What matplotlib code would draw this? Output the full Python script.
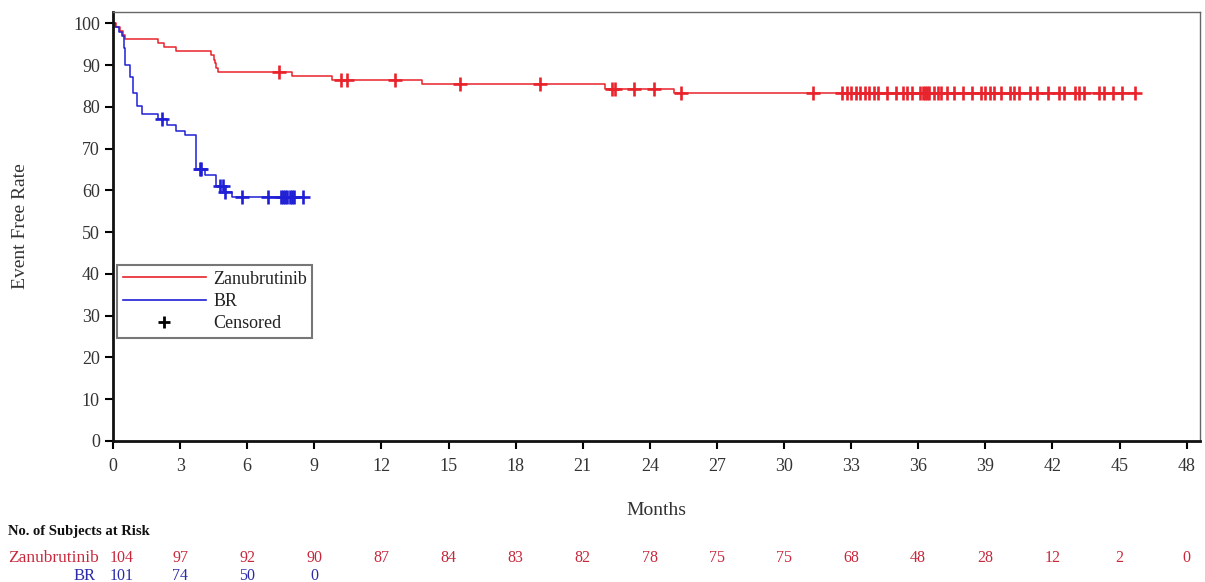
import numpy as np
import matplotlib
matplotlib.use("Agg")
import matplotlib.pyplot as plt
from matplotlib.lines import Line2D
from matplotlib.transforms import blended_transform_factory

plt.rcParams['font.family'] = ['Liberation Serif', 'DejaVu Serif']

# Kaplan-Meier steps (months, event free rate %)
zan_t = [0, 0.15, 0.3, 0.45, 0.55, 2.0, 2.3, 2.8, 4.4, 4.5, 4.55, 4.6, 4.7, 8.0, 9.8, 13.8, 22.0, 25.1]
zan_s = [100, 99.0, 98.1, 97.1, 96.2, 95.2, 94.2, 93.3, 92.3, 91.3, 90.4, 89.4, 88.4, 87.4, 86.4, 85.4, 84.3, 83.2]
zan_cens = [7.4, 10.2, 10.45, 12.6, 15.5, 19.1, 22.3, 22.45, 23.3, 24.2, 25.4, 31.3,
            32.6, 32.8, 33.0, 33.2, 33.4, 33.6, 33.8, 34.0, 34.2, 34.6, 35.0, 35.3, 35.5,
            35.7, 36.1, 36.2, 36.3, 36.4, 36.5, 36.7, 36.9, 37.0, 37.3, 37.6, 38.0, 38.4,
            38.8, 39.0, 39.2, 39.4, 39.7, 40.1, 40.3, 40.5, 41.0, 41.3, 41.8, 42.3, 42.5,
            43.0, 43.2, 43.4, 44.1, 44.3, 44.7, 45.1, 45.7]

br_t = [0, 0.1, 0.25, 0.4, 0.5, 0.55, 0.75, 0.9, 1.05, 1.28, 2.0, 2.4, 2.8, 3.2, 3.72, 4.1, 4.6, 4.95, 5.3]
br_s = [100, 99.0, 98.0, 97.0, 94.1, 90.1, 87.1, 83.2, 80.2, 78.2, 77.2, 75.6, 74.2, 73.3, 65.1, 63.6, 61.0, 59.6, 58.4]
br_cens = [2.2, 3.9, 3.95, 4.8, 4.9, 5.0, 5.75, 6.95, 7.5, 7.6, 7.7, 7.8, 7.9, 8.0, 8.1, 8.5]

# numbers at risk
risk_months = [0, 3, 6, 9, 12, 15, 18, 21, 24, 27, 30, 33, 36, 39, 42, 45, 48]
zan_risk = [104, 97, 92, 90, 87, 84, 83, 82, 78, 75, 75, 68, 48, 28, 12, 2, 0]
br_risk = [101, 74, 50, 0]

red = '#e8232b'
blue = '#1f1fd6'
red_txt = '#c8283c'
blue_txt = '#2b2ba8'


def step_value(t, s, x):
    idx = np.searchsorted(t, x, side='right') - 1
    return np.asarray(s)[idx]


fig = plt.figure(figsize=(12.05, 5.82), dpi=100)
ax = fig.add_axes([0.0938, 0.2423, 0.9021, 0.7371])

for t, s, cens, col in ((zan_t, zan_s, zan_cens, red), (br_t, br_s, br_cens, blue)):
    tt = list(t) + [max(cens)]
    ss = list(s) + [s[-1]]
    ax.step(tt, ss, where='post', color=col, lw=1.1)
    ax.plot(cens, step_value(t, s, cens), '+', color=col, ms=10, mew=1.9, ls='none')

ax.set_xlim(0, 48.6)
ax.set_ylim(0, 102.7)
ax.set_xticks(np.arange(0, 49, 3))
ax.set_yticks(np.arange(0, 101, 10))
ax.tick_params(direction='out', length=6, width=1.5, labelsize=13, labelcolor='#333333')
ax.tick_params(axis='x', pad=6)
for side in ('left', 'bottom'):
    ax.spines[side].set_linewidth(2)
    ax.spines[side].set_color('#111111')
for side in ('top', 'right'):
    ax.spines[side].set_linewidth(1)
    ax.spines[side].set_color('#666666')

ax.set_ylabel('Event Free Rate', fontsize=14, color='#333333')
ax.yaxis.set_label_coords(-0.077, 0.5)
ax.set_xlabel('Months', fontsize=14, color='#333333')
ax.xaxis.set_label_coords(0.5, -0.143)

handles = [Line2D([], [], color=red, lw=1.2),
           Line2D([], [], color=blue, lw=1.2),
           Line2D([], [], color='black', marker='+', ls='none', ms=9, mew=2)]
leg = ax.legend(handles, ['Zanubrutinib', 'BR', 'Censored'], loc='upper left',
                bbox_to_anchor=(0.004, 0.41), borderaxespad=0, fontsize=13,
                frameon=True, fancybox=False, handlelength=4.6, handletextpad=0.4,
                labelspacing=0.3, borderpad=0.3, labelcolor='#222222')
leg.get_frame().set_edgecolor('#555555')
leg.get_frame().set_linewidth(1.5)

# at-risk table
tr = blended_transform_factory(ax.transData, fig.transFigure)
fs = 11.5
fig.text(0.007, 1 - 532 / 582, 'No. of Subjects at Risk', fontsize=10.5, fontweight='bold',
         va='center', ha='left', color='#111111')
y_zan = 1 - 558 / 582
y_br = 1 - 576 / 582
fig.text(0.007, y_zan, 'Zanubrutinib', fontsize=12.5, color=red_txt, va='center', ha='left')
fig.text(0.079, y_br, 'BR', fontsize=12, color=blue_txt, va='center', ha='right')
for i, (m, n) in enumerate(zip(risk_months, zan_risk)):
    xm = m + 0.4 if i == 0 else m
    ax.text(xm, y_zan, str(n), transform=tr, fontsize=fs, color=red_txt, ha='center', va='center')
for i, (m, n) in enumerate(zip(risk_months, br_risk)):
    xm = m + 0.4 if i == 0 else m
    ax.text(xm, y_br, str(n), transform=tr, fontsize=fs, color=blue_txt, ha='center', va='center')

fig.savefig('out.png', dpi=100)
